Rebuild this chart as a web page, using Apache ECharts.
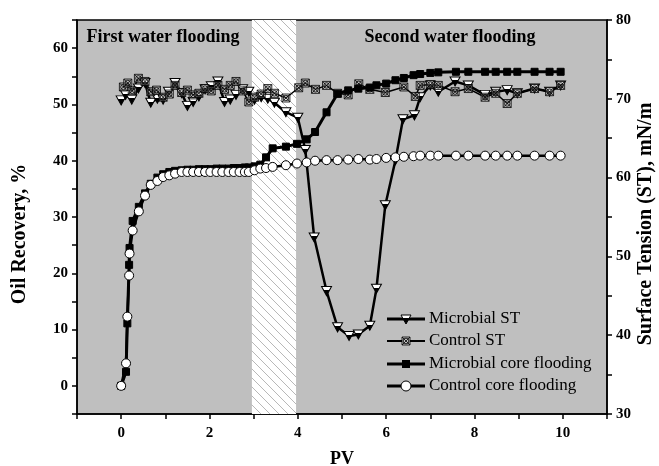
<!DOCTYPE html>
<html>
<head>
<meta charset="utf-8">
<script src="https://cdn.jsdelivr.net/npm/echarts@6/dist/echarts.min.js"></script>
<style>
  html, body { margin: 0; padding: 0; background: #fff; }
</style>
</head>
<body>
<div id="oilChart" style="width:659px;height:466px;"></div>
<script>
// PV values for core flooding points
const pvCore = [0, 0.11, 0.14, 0.18, 0.19, 0.26, 0.4, 0.54, 0.67, 0.82, 0.95, 1.09, 1.22,
  1.37, 1.5, 1.63, 1.76, 1.9, 2.02, 2.16, 2.29, 2.43, 2.55, 2.68, 2.8, 2.89,
  3.02, 3.15, 3.28, 3.43, 3.73, 3.98, 4.2, 4.39, 4.65, 4.9, 5.14, 5.37, 5.63, 5.78, 6.0,
  6.21, 6.4, 6.62, 6.77, 7.0, 7.18, 7.58, 7.86, 8.24, 8.48, 8.74, 8.97, 9.36, 9.7, 9.95];
// oil recovery, %
const microCore = [0, 2.5, 11.1, 21.5, 24.5, 29.3, 31.8, 34.2, 35.9, 37.0, 37.6, 38.0, 38.2,
  38.3, 38.4, 38.4, 38.5, 38.5, 38.5, 38.6, 38.6, 38.6, 38.7, 38.7, 38.8, 38.8,
  39.0, 39.3, 40.6, 42.2, 42.5, 43.0, 43.8, 45.1, 48.6, 51.9, 52.5, 52.8, 53.0, 53.4, 53.7,
  54.3, 54.7, 55.2, 55.4, 55.6, 55.7, 55.8, 55.8, 55.8, 55.8, 55.8, 55.8, 55.8, 55.8, 55.8];
const controlCore = [0, 4.0, 12.3, 19.6, 23.5, 27.6, 31.0, 33.8, 35.7, 36.4, 37.1, 37.4, 37.7,
  38.0, 38.0, 38.0, 38.0, 38.0, 38.0, 38.0, 38.0, 38.0, 38.0, 38.0, 38.0, 38.0,
  38.3, 38.6, 38.7, 38.9, 39.2, 39.5, 39.7, 40.0, 40.1, 40.1, 40.2, 40.3, 40.2, 40.3, 40.5,
  40.6, 40.7, 40.8, 40.9, 40.9, 40.9, 40.9, 40.9, 40.9, 40.9, 40.9, 40.9, 40.9, 40.9, 40.9];

// surface tension, mN/m
const pvMicroST = [0, 0.1, 0.24, 0.39, 0.54, 0.67, 0.82, 0.95, 1.07, 1.22, 1.37, 1.5, 1.63,
  1.76, 1.9, 2.04, 2.19, 2.34, 2.47, 2.6, 2.75, 2.89, 3.02, 3.17, 3.32, 3.47, 3.73, 4.0,
  4.17, 4.37, 4.65, 4.9, 5.16, 5.37, 5.63, 5.78, 5.98, 6.21, 6.38, 6.64, 6.77, 7.0, 7.18,
  7.56, 7.86, 8.24, 8.48, 8.74, 8.97, 9.36, 9.7, 9.95];
const microST = [69.8, 70.5, 69.9, 71.3, 72.0, 69.5, 70.0, 69.9, 70.9, 72.0, 70.7, 69.1, 69.6,
  70.3, 71.2, 71.6, 72.2, 69.6, 69.9, 70.5, 71.2, 70.9, 69.9, 70.2, 70.0, 69.5, 68.3, 67.6,
  63.5, 52.4, 45.6, 41.0, 39.9, 40.1, 41.2, 45.9, 56.5, 62.2, 67.4, 67.9, 70.2, 71.7, 70.9,
  72.2, 71.7, 70.5, 70.9, 71.1, 70.7, 71.3, 70.9, 71.7];
const pvControlST = [0.05, 0.15, 0.25, 0.39, 0.54, 0.67, 0.8, 0.95, 1.09, 1.22, 1.37, 1.5, 1.63,
  1.76, 1.9, 2.04, 2.19, 2.34, 2.47, 2.6, 2.75, 2.89, 3.02, 3.17, 3.32, 3.47, 3.73, 4.02,
  4.17, 4.4, 4.65, 4.9, 5.14, 5.38, 5.63, 5.98, 6.4, 6.66, 6.77, 7.0, 7.18, 7.56, 7.86,
  8.24, 8.48, 8.74, 8.97, 9.36, 9.7, 9.95];
const controlST = [71.5, 72.0, 71.0, 72.6, 72.2, 70.9, 71.1, 70.2, 70.6, 71.7, 70.8, 71.1, 70.5,
  70.7, 71.3, 71.0, 71.7, 71.2, 71.7, 72.2, 71.0, 69.6, 70.2, 70.6, 71.3, 70.7, 70.1, 71.4,
  72.0, 71.2, 71.7, 70.7, 70.5, 71.9, 71.2, 70.8, 71.5, 70.3, 71.7, 71.8, 71.7, 70.9, 71.3,
  70.2, 70.7, 69.4, 70.7, 71.3, 70.9, 71.7];

const injection = [2.96, 3.96];
const legendNames = ['Microbial ST', 'Control ST', 'Microbial core flooding', 'Control core flooding'];

const serif = '"Liberation Serif", "Times New Roman", serif';

function pairs(xs, ys) {
  return xs.map(function (x, i) { return [x, ys[i]]; });
}

// hatch pattern for sample injection band
function hatchPattern() {
  const c = document.createElement('canvas');
  c.width = 9; c.height = 9;
  const g = c.getContext('2d');
  g.fillStyle = '#ffffff';
  g.fillRect(0, 0, 9, 9);
  g.strokeStyle = '#b8b8b8';
  g.lineWidth = 1;
  g.beginPath();
  g.moveTo(-1, -1); g.lineTo(10, 10);
  g.moveTo(-1, 8); g.lineTo(1, 10);
  g.moveTo(8, -1); g.lineTo(10, 1);
  g.stroke();
  return c;
}

const triColor = {
  type: 'linear', x: 0, y: 0, x2: 0, y2: 1,
  colorStops: [
    { offset: 0, color: '#fff' }, { offset: 0.38, color: '#fff' },
    { offset: 0.38, color: '#000' }, { offset: 1, color: '#000' }
  ]
};
const crossSquare = 'path://M0,0L10,0L10,10L0,10Z M0,0L10,10 M10,0L0,10 M1.6,5A3.4,3.4 0 1 1 8.4,5A3.4,3.4 0 1 1 1.6,5Z';
const downTri = 'path://M0,0L10,0L5,9Z';

const axisLineStyle = { color: '#000', width: 1.5 };

// hand drawn legend (line + marker + text)
const legX = 387, legRows = [319, 341, 364, 386];
function legendItem(i) {
  const y = legRows[i], cx = legX + 19;
  const items = [{
    type: 'line', shape: { x1: legX, y1: y, x2: legX + 38, y2: y },
    style: { stroke: '#000', lineWidth: i === 1 ? 2 : 3 }
  }];
  if (i === 0) {
    items.push({ type: 'polygon', shape: { points: [[cx - 5, y - 4], [cx + 5, y - 4], [cx, y + 5]] }, style: { fill: triColor, stroke: '#000', lineWidth: 1 } });
  } else if (i === 1) {
    items.push({ type: 'rect', shape: { x: cx - 4, y: y - 4, width: 8, height: 8 }, style: { fill: '#bfbfbf', stroke: '#000', lineWidth: 0.8 } });
    items.push({ type: 'line', shape: { x1: cx - 4, y1: y - 4, x2: cx + 4, y2: y + 4 }, style: { stroke: '#000', lineWidth: 0.8 } });
    items.push({ type: 'line', shape: { x1: cx + 4, y1: y - 4, x2: cx - 4, y2: y + 4 }, style: { stroke: '#000', lineWidth: 0.8 } });
    items.push({ type: 'circle', shape: { cx: cx, cy: y, r: 2.8 }, style: { fill: 'none', stroke: '#000', lineWidth: 0.8 } });
  } else if (i === 2) {
    items.push({ type: 'rect', shape: { x: cx - 4, y: y - 4, width: 8, height: 8 }, style: { fill: '#000' } });
  } else {
    items.push({ type: 'circle', shape: { cx: cx, cy: y, r: 5 }, style: { fill: '#fff', stroke: '#000', lineWidth: 1 } });
  }
  items.push({
    type: 'text', x: legX + 42, y: y,
    style: { text: legendNames[i], font: '17px ' + serif, fill: '#000', verticalAlign: 'middle' }
  });
  return { type: 'group', z: 50, children: items };
}

let chart = echarts.init(document.getElementById('oilChart'));
chart.setOption({
  animation: false,
  grid: {
    left: 77, right: 52, top: 20, bottom: 52,
    show: true,
    backgroundColor: '#bfbfbf',
    borderColor: '#000',
    borderWidth: 1.5
  },
  xAxis: {
    type: 'value', min: -1, max: 11, interval: 1,
    axisLine: { onZero: false, lineStyle: axisLineStyle },
    axisTick: { inside: false, length: 5, lineStyle: axisLineStyle },
    splitLine: { show: false },
    axisLabel: {
      fontFamily: serif, fontSize: 15, fontWeight: 'bold', color: '#000', margin: 12,
      formatter: function (v) { return (v >= 0 && v <= 10 && v % 2 === 0) ? String(v) : ''; }
    }
  },
  yAxis: [{
    type: 'value', min: -5, max: 65, interval: 5,
    axisLine: { show: true, onZero: false, lineStyle: axisLineStyle },
    axisTick: { show: true, length: 5, lineStyle: axisLineStyle },
    splitLine: { show: false },
    axisLabel: {
      fontFamily: serif, fontSize: 15, fontWeight: 'bold', color: '#000', margin: 9,
      formatter: function (v) { return (v >= 0 && v <= 60 && v % 10 === 0) ? String(v) : ''; }
    }
  }, {
    type: 'value', min: 30, max: 80, interval: 5, position: 'right',
    axisLine: { show: true, onZero: false, lineStyle: axisLineStyle },
    axisTick: { show: true, length: 5, lineStyle: axisLineStyle },
    splitLine: { show: false },
    axisLabel: {
      fontFamily: serif, fontSize: 15, fontWeight: 'bold', color: '#000', margin: 9,
      formatter: function (v) { return v % 10 === 0 ? String(v) : ''; }
    }
  }],
  graphic: [
    { type: 'text', x: 163, y: 37, style: { text: 'First water flooding', font: 'bold 18px ' + serif, fill: '#000', align: 'center', verticalAlign: 'middle' } },
    { type: 'text', x: 450, y: 37, style: { text: 'Second water flooding', font: 'bold 18px ' + serif, fill: '#000', align: 'center', verticalAlign: 'middle' } },
    { type: 'text', x: 274, y: 307, rotation: Math.PI / 2, style: { text: 'Sample injection', font: '18px ' + serif, fill: '#000', align: 'center', verticalAlign: 'middle' } },
    { type: 'text', x: 20, y: 234, rotation: Math.PI / 2, style: { text: 'Oil Recovery, %', font: 'bold 20px ' + serif, fill: '#000', align: 'center', verticalAlign: 'middle' } },
    { type: 'text', x: 646, y: 224, rotation: Math.PI / 2, style: { text: 'Surface Tension (ST), mN/m', font: 'bold 20px ' + serif, fill: '#000', align: 'center', verticalAlign: 'middle' } },
    { type: 'text', x: 342, y: 459, style: { text: 'PV', font: 'bold 18px ' + serif, fill: '#000', align: 'center', verticalAlign: 'middle' } },
    legendItem(0), legendItem(1), legendItem(2), legendItem(3)
  ],
  series: [{
    name: legendNames[0],
    type: 'line',
    yAxisIndex: 1,
    data: pairs(pvMicroST, microST),
    symbol: downTri, symbolSize: [10, 9],
    lineStyle: { color: '#000', width: 2.5 },
    itemStyle: { color: triColor, borderColor: '#000', borderWidth: 1 },
    markArea: {
      silent: true,
      itemStyle: { color: { image: hatchPattern(), repeat: 'repeat' } },
      data: [[{ xAxis: injection[0] }, { xAxis: injection[1] }]]
    },
    z: 3
  }, {
    name: legendNames[1],
    type: 'line',
    yAxisIndex: 1,
    data: pairs(pvControlST, controlST),
    symbol: crossSquare, symbolSize: 8,
    lineStyle: { color: '#000', width: 1.5 },
    itemStyle: { color: 'rgba(191,191,191,0.4)', borderColor: '#000', borderWidth: 0.8 },
    z: 3
  }, {
    name: legendNames[2],
    type: 'line',
    data: pairs(pvCore, microCore),
    symbol: 'rect', symbolSize: 7,
    lineStyle: { color: '#000', width: 3 },
    itemStyle: { color: '#000', borderColor: '#000' },
    z: 4
  }, {
    name: legendNames[3],
    type: 'line',
    data: pairs(pvCore, controlCore),
    symbol: 'circle', symbolSize: 9,
    lineStyle: { color: '#000', width: 2.5 },
    itemStyle: { color: '#fff', borderColor: '#000', borderWidth: 1 },
    z: 5
  }]
});
</script>
</body>
</html>
